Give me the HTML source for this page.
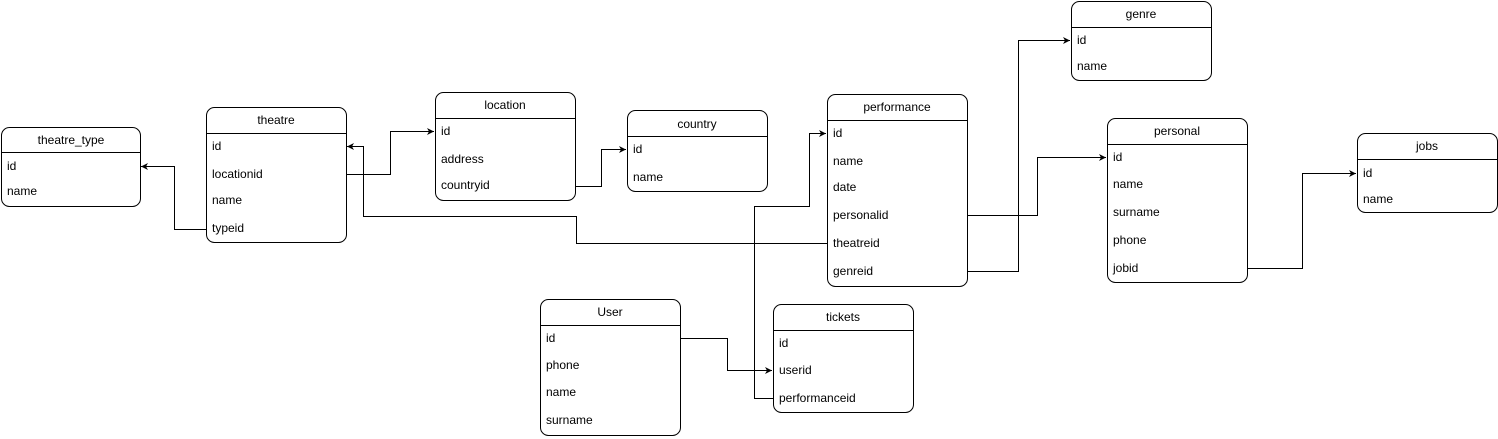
<!DOCTYPE html>
<html><head><meta charset="utf-8"><style>
html,body{margin:0;padding:0;background:#fff;width:1498px;height:439px;overflow:hidden}
text{font-family:"Liberation Sans",Arial,sans-serif;font-size:12px;fill:#000}
</style></head><body>
<svg width="1498" height="439" viewBox="0 0 1498 439" xmlns="http://www.w3.org/2000/svg">
<defs><marker id="a" markerWidth="8" markerHeight="8" refX="7" refY="4" orient="auto" markerUnits="userSpaceOnUse"><path d="M0,0.5 L7,4 L0,7.5 L2,4 Z" fill="#000"/></marker></defs>
<g fill="none" stroke="#000" stroke-width="1">
<path d="M206.5,229.5 H174.5 V166.5 H141" marker-end="url(#a)"/>
<path d="M346.5,174.5 H390.5 V131.5 H434" marker-end="url(#a)"/>
<path d="M575.5,186.5 H601.5 V149.5 H626" marker-end="url(#a)"/>
<path d="M827.5,243.5 H576.5 V216.5 H363.5 V146.5 H347" marker-end="url(#a)"/>
<path d="M773.5,398.5 H754.5 V206.5 H809.5 V133.5 H826" marker-end="url(#a)"/>
<path d="M680.5,338.5 H727.5 V370.5 H772" marker-end="url(#a)"/>
<path d="M967.5,215.5 H1037.5 V157.5 H1106" marker-end="url(#a)"/>
<path d="M967.5,271.5 H1018.5 V40.5 H1070" marker-end="url(#a)"/>
<path d="M1247.5,268.5 H1302.5 V173.5 H1356" marker-end="url(#a)"/>
</g>
<g fill="#fff" stroke="#000" stroke-width="1">
<rect x="1.5" y="127.5" width="139" height="79" rx="8"/><line x1="1.5" y1="152.5" x2="140.5" y2="152.5"/>
<rect x="206.5" y="107.5" width="140" height="135" rx="8"/><line x1="206.5" y1="133.5" x2="346.5" y2="133.5"/>
<rect x="435.5" y="92.5" width="140" height="108" rx="8"/><line x1="435.5" y1="118.5" x2="575.5" y2="118.5"/>
<rect x="627.5" y="110.5" width="140" height="81" rx="8"/><line x1="627.5" y1="136.5" x2="767.5" y2="136.5"/>
<rect x="827.5" y="94.5" width="140" height="192" rx="8"/><line x1="827.5" y1="120.5" x2="967.5" y2="120.5"/>
<rect x="1071.5" y="1.5" width="140" height="79" rx="8"/><line x1="1071.5" y1="27.5" x2="1211.5" y2="27.5"/>
<rect x="1107.5" y="118.5" width="140" height="164" rx="8"/><line x1="1107.5" y1="144.5" x2="1247.5" y2="144.5"/>
<rect x="1357.5" y="133.5" width="140" height="79" rx="8"/><line x1="1357.5" y1="159.5" x2="1497.5" y2="159.5"/>
<rect x="540.5" y="299.5" width="140" height="136" rx="8"/><line x1="540.5" y1="325.5" x2="680.5" y2="325.5"/>
<rect x="773.5" y="304.5" width="140" height="108" rx="8"/><line x1="773.5" y1="330.5" x2="913.5" y2="330.5"/>
</g>
<g text-anchor="middle">
<text x="71" y="144">theatre_type</text><text x="276" y="124">theatre</text><text x="505" y="109">location</text>
<text x="697" y="128">country</text><text x="897" y="111">performance</text><text x="1141" y="18">genre</text>
<text x="1177" y="135">personal</text><text x="1427" y="150">jobs</text><text x="610" y="316">User</text><text x="843" y="321">tickets</text>
</g>
<g>
<text x="7" y="170">id</text><text x="7" y="195">name</text>
<text x="212" y="150">id</text><text x="212" y="178">locationid</text><text x="212" y="204">name</text><text x="212" y="232">typeid</text>
<text x="441" y="135">id</text><text x="441" y="163">address</text><text x="441" y="189">countryid</text>
<text x="633" y="153">id</text><text x="633" y="181">name</text>
<text x="833" y="137">id</text><text x="833" y="165">name</text><text x="833" y="191">date</text><text x="833" y="219">personalid</text><text x="833" y="247">theatreid</text><text x="833" y="275">genreid</text>
<text x="1077" y="44">id</text><text x="1077" y="70">name</text>
<text x="1113" y="161">id</text><text x="1113" y="188">name</text><text x="1113" y="216">surname</text><text x="1113" y="244">phone</text><text x="1113" y="272">jobid</text>
<text x="1363" y="177">id</text><text x="1363" y="203">name</text>
<text x="546" y="342">id</text><text x="546" y="369">phone</text><text x="546" y="396">name</text><text x="546" y="424">surname</text>
<text x="779" y="347">id</text><text x="779" y="374">userid</text><text x="779" y="402">performanceid</text>
</g>
</svg>
</body></html>
